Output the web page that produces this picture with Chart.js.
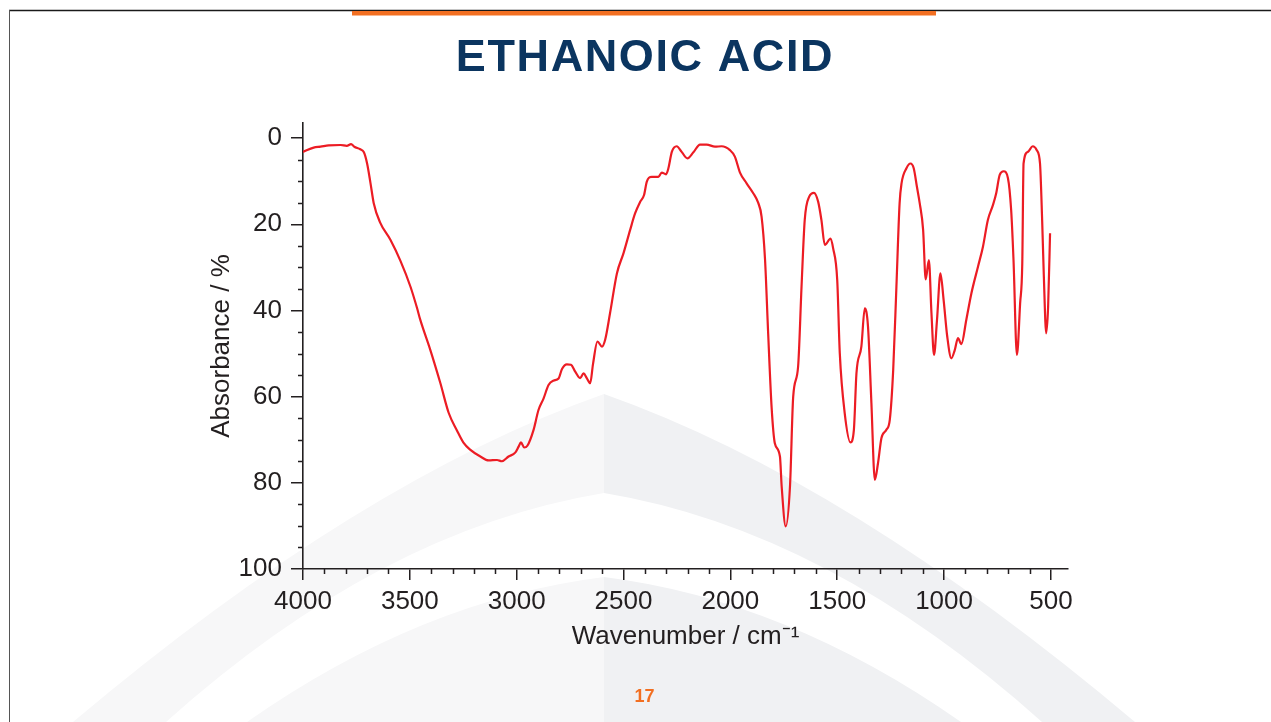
<!DOCTYPE html>
<html>
<head>
<meta charset="utf-8">
<script src="https://cdn.jsdelivr.net/npm/chart.js@4.4.1/dist/chart.umd.min.js"></script>
<style>
  html, body { margin: 0; padding: 0; background: #ffffff; overflow: hidden; }
  canvas { display: block; }
</style>
</head>
<body>
<canvas id="spectrum" width="1271" height="722"></canvas>
<script>
// IR spectrum of ethanoic acid: wavenumber (cm-1) against absorbance (%)
const wavenumbers = [
  4000, 3950, 3918, 3880, 3824, 3795, 3775, 3760, 3732, 3715,
  3700, 3684, 3669, 3640, 3591, 3544, 3497, 3466, 3451, 3404,
  3357, 3318, 3279, 3250, 3218, 3170, 3131, 3092, 3069, 3038,
  3007, 2991, 2980, 2965, 2950, 2921, 2898, 2874, 2851, 2828,
  2804, 2788, 2765, 2746, 2726, 2703, 2687, 2672, 2656, 2643,
  2622, 2601, 2586, 2563, 2531, 2500, 2469, 2446, 2422, 2404,
  2391, 2368, 2337, 2321, 2301, 2290, 2274, 2251, 2228, 2201,
  2173, 2142, 2111, 2072, 2041, 2002, 1979, 1955, 1924, 1893,
  1870, 1854, 1838, 1823, 1807, 1792, 1768, 1760, 1741, 1721,
  1706, 1683, 1667, 1652, 1631, 1609, 1589, 1574, 1558, 1531,
  1519, 1500, 1488, 1465, 1438, 1422, 1410, 1387, 1371, 1356,
  1340, 1324, 1309, 1293, 1270, 1254, 1238, 1223, 1208, 1199,
  1176, 1157, 1142, 1127, 1114, 1098, 1086, 1071, 1059, 1047,
  1033, 1017, 1002, 985, 966, 950, 935, 919, 896, 872,
  841, 818, 795, 771, 756, 740, 721, 701, 686, 675,
  659, 644, 634, 628, 608, 585, 566, 551, 541, 533,
  522, 513, 504
];
const absorbance = [
  3.2, 2.2, 2.0, 1.7, 1.6, 1.8, 1.4, 2.0, 2.6, 3.3,
  5.9, 10.5, 15.1, 19.5, 23.6, 28.5, 34.5, 39.5, 42.2, 49.2,
  56.9, 63.8, 67.9, 70.6, 72.3, 73.9, 74.8, 74.7, 75.0, 73.9,
  73.0, 71.6, 70.6, 71.8, 71.4, 67.7, 63.1, 60.4, 57.3, 56.3,
  55.8, 53.6, 52.5, 52.6, 54.2, 55.7, 54.6, 55.7, 56.9, 52.5,
  47.2, 48.4, 46.8, 40.6, 31.4, 26.7, 21.3, 17.5, 14.8, 13.2,
  10.1, 9.0, 9.0, 8.0, 8.4, 7.0, 3.2, 1.9, 3.2, 4.7,
  3.3, 1.5, 1.5, 2.0, 1.9, 2.8, 4.3, 8.0, 10.5, 12.8,
  15.0, 18.2, 28.0, 45.5, 62.5, 70.8, 73.9, 80.8, 90.1, 80.8,
  60.0, 53.0, 34.5, 19.0, 13.6, 12.7, 14.8, 19.0, 24.8, 23.3,
  25.6, 32.9, 49.9, 63.8, 70.6, 67.7, 54.6, 48.4, 39.5, 43.7,
  61.5, 79.3, 75.4, 69.6, 67.7, 65.4, 53.8, 34.5, 15.1, 10.5,
  7.0, 5.9, 7.0, 11.3, 15.1, 21.3, 32.8, 28.3, 40.6, 50.3,
  42.2, 31.4, 37.6, 46.1, 51.1, 49.2, 46.4, 47.8, 42.2, 36.0,
  29.8, 25.2, 19.0, 15.5, 12.8, 8.6, 7.7, 9.3, 16.7, 28.3,
  50.3, 38.3, 29.1, 5.9, 3.2, 1.9, 2.8, 5.9, 19.0, 32.2,
  45.3, 39.1, 22.1
];
const xTickValues = [4000, 3500, 3000, 2500, 2000, 1500, 1000, 500];
const yTickValues = [0, 20, 40, 60, 80, 100];
const chartTitle = 'ETHANOIC ACID';
const pageNumber = '17';

const FONT = '"Liberation Sans", Arial, sans-serif';
const INK = '#231f20';
const ORANGE = '#f26f21';

// Slide furniture behind the plot: frame lines, orange bar and the pale chevrons
const backdrop = {
  id: 'backdrop',
  beforeDraw(chart) {
    const ctx = chart.ctx;
    const W = chart.width, H = chart.height;
    ctx.save();
    ctx.fillStyle = '#ffffff';
    ctx.fillRect(0, 0, W, H);

    const mid = 604;
    function arch(apexY, ctrl, foot, leftCol, rightCol) {
      const path = new Path2D();
      path.moveTo(mid, apexY);
      path.quadraticCurveTo(mid - ctrl[0], ctrl[1], mid - foot[0], foot[1]);
      path.lineTo(mid - foot[0], H + 2);
      path.lineTo(mid + foot[0], H + 2);
      path.lineTo(mid + foot[0], foot[1]);
      path.quadraticCurveTo(mid + ctrl[0], ctrl[1], mid, apexY);
      path.closePath();
      ctx.save();
      ctx.beginPath(); ctx.rect(0, 0, mid, H); ctx.clip();
      ctx.fillStyle = leftCol; ctx.fill(path);
      ctx.restore();
      ctx.save();
      ctx.beginPath(); ctx.rect(mid, 0, W - mid, H); ctx.clip();
      ctx.fillStyle = rightCol; ctx.fill(path);
      ctx.restore();
    }
    arch(394, [244, 480], [531, 722], '#f7f7f8', '#f0f1f3');
    arch(493, [224, 530], [438, 722], '#ffffff', '#ffffff');
    arch(577, [183, 600], [357, 722], '#f7f7f8', '#f0f1f3');

    // frame
    ctx.strokeStyle = '#1a1a1a';
    ctx.lineWidth = 1.5;
    ctx.beginPath();
    ctx.moveTo(9, 10.5); ctx.lineTo(W, 10.5);
    ctx.stroke();
    ctx.strokeStyle = '#555555';
    ctx.lineWidth = 1;
    ctx.beginPath();
    ctx.moveTo(9.5, 10); ctx.lineTo(9.5, H);
    ctx.stroke();

    ctx.fillStyle = ORANGE;
    ctx.fillRect(352, 11, 584, 4.5);
    ctx.restore();
  }
};

// Heading, page number and the minor tick marks on both axes
const overlay = {
  id: 'overlay',
  afterDraw(chart) {
    const ctx = chart.ctx;
    const xs = chart.scales.x, ys = chart.scales.y;
    const area = chart.chartArea;
    ctx.save();
    ctx.strokeStyle = INK;
    ctx.lineWidth = 1.5;
    ctx.beginPath();
    for (let v = 4000; v >= 500; v -= 100) {
      if (v % 500 === 0) continue;
      const px = Math.round(xs.getPixelForValue(v)) + 0.5;
      ctx.moveTo(px, area.bottom);
      ctx.lineTo(px, area.bottom + 5);
    }
    for (let v = 0; v <= 100; v += 5) {
      if (v % 20 === 0) continue;
      const py = Math.round(ys.getPixelForValue(v)) + 0.5;
      ctx.moveTo(area.left - 5, py);
      ctx.lineTo(area.left, py);
    }
    ctx.stroke();

    ctx.textAlign = 'center';
    ctx.textBaseline = 'alphabetic';
    ctx.fillStyle = '#0b3560';
    ctx.font = 'bold 45px ' + FONT;
    ctx.letterSpacing = '1.6px';
    ctx.fillText(chartTitle, 645, 71);
    ctx.letterSpacing = '0px';

    ctx.fillStyle = ORANGE;
    ctx.font = 'bold 18px ' + FONT;
    ctx.fillText(pageNumber, 644.5, 702);
    ctx.restore();
  }
};

const points = wavenumbers.map((w, i) => ({ x: w, y: absorbance[i] }));

new Chart(document.getElementById('spectrum'), {
  type: 'line',
  data: {
    datasets: [{
      data: points,
      borderColor: '#ec1c24',
      borderWidth: 2.2,
      pointRadius: 0,
      fill: false,
      cubicInterpolationMode: 'monotone'
    }]
  },
  options: {
    responsive: false,
    animation: false,
    devicePixelRatio: 1,
    layout: { padding: { left: 190, right: 203, top: 123, bottom: 0 } },
    plugins: {
      legend: { display: false },
      tooltip: { enabled: false },
      title: { display: false }
    },
    scales: {
      x: {
        type: 'linear',
        reverse: true,
        min: 420,
        max: 4000,
        afterBuildTicks: s => { s.ticks = xTickValues.map(v => ({ value: v })); },
        afterFit: s => { s.height = 153; },
        grid: { drawOnChartArea: false, drawTicks: true, tickLength: 11, color: INK, lineWidth: 1.5 },
        border: { display: true, color: INK, width: 1.6 },
        ticks: {
          autoSkip: false, maxRotation: 0, padding: 6, color: INK,
          font: { family: FONT, size: 26 },
          callback: v => String(v)
        },
        title: {
          display: true,
          text: 'Wavenumber / cm⁻¹',
          color: INK,
          font: { family: FONT, size: 26 },
          padding: { top: 0, bottom: 70 }
        }
      },
      y: {
        type: 'linear',
        reverse: true,
        min: -3.5,
        max: 100,
        afterBuildTicks: s => { s.ticks = yTickValues.map(v => ({ value: v })); },
        afterFit: s => { s.width = 113; },
        grid: { drawOnChartArea: false, drawTicks: true, tickLength: 12, color: INK, lineWidth: 1.5 },
        border: { display: true, color: INK, width: 1.6 },
        ticks: {
          autoSkip: false, padding: 9, color: INK,
          font: { family: FONT, size: 26 },
          callback: v => String(v)
        },
        title: {
          display: true,
          text: 'Absorbance / %',
          color: INK,
          font: { family: FONT, size: 26 },
          padding: { top: 16, bottom: 0 }
        }
      }
    }
  },
  plugins: [backdrop, overlay]
});
</script>
</body>
</html>
